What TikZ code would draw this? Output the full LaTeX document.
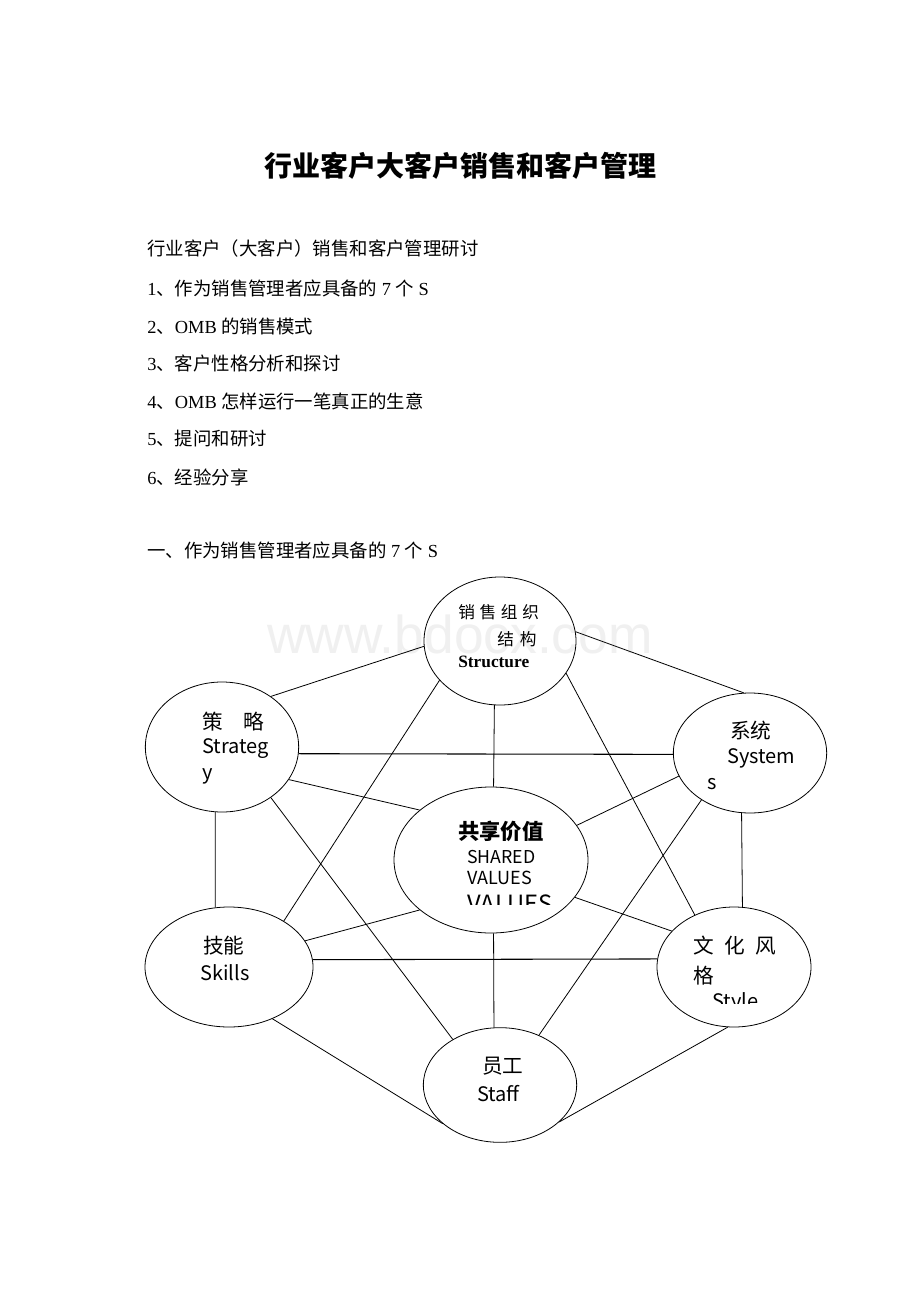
\documentclass[tikz,border=0pt]{standalone}
\usepackage{fontspec}
\setmainfont{Liberation Serif}
\newfontfamily\zhfont{Noto Sans CJK SC}
\newfontfamily\wmfont{Liberation Sans}
\usetikzlibrary{shapes.geometric}

\begin{document}
\begin{tikzpicture}[x=0.75pt, y=-0.75pt,
		oval/.style={draw, ellipse, inner sep=0pt, line width=0.6pt},
		link/.style={line width=0.6pt},
		bodyline/.style={anchor=west, inner sep=0pt, font=\fontsize{13.8}{16}\selectfont},
		zhlabel/.style={anchor=west, inner sep=0pt, font=\zhfont\fontsize{15.5}{18}\selectfont},
		enlabel/.style={anchor=west, inner sep=0pt, font=\zhfont\fontsize{15}{18}\selectfont}]
				% Page
				\useasboundingbox (0,0) rectangle (920,1302);
				\fill[white] (0,0) rectangle (920,1302);
				
				% Watermark
				\node[text=gray!12, font=\wmfont\fontsize{40}{44}\selectfont] (wm) at (460,634) {www.bdocx.com};
				
				% Title
				\node[font=\zhfont\bfseries\fontsize{21}{24}\selectfont] (title) at (460,166) {行业客户大客户销售和客户管理};
				
				% Outline
				\node[bodyline] (l0) at (147,249) {\zhfont 行业客户（大客户）销售和客户管理研讨};
				\node[bodyline] (l1) at (147,288) {1{\zhfont 、作为销售管理者应具备的} 7 {\zhfont 个} S};
				\node[bodyline] (l2) at (147,326) {2{\zhfont 、}OMB {\zhfont 的销售模式}};
				\node[bodyline] (l3) at (147,363) {3{\zhfont 、客户性格分析和探讨}};
				\node[bodyline] (l4) at (147,401) {4{\zhfont 、}OMB {\zhfont 怎样运行一笔真正的生意}};
				\node[bodyline] (l5) at (147,439) {5{\zhfont 、提问和研讨}};
				\node[bodyline] (l6) at (147,477) {6{\zhfont 、经验分享}};
				\node[bodyline] (l7) at (147,550) {{\zhfont 一、作为销售管理者应具备的} 7 {\zhfont 个} S};
				
				% The seven S
				\node[oval, minimum width=114pt, minimum height=96pt] (struct) at (500,641) {};
				\node[oval, minimum width=115pt, minimum height=97.5pt] (strat) at (222,747) {};
				\node[oval, minimum width=115pt, minimum height=90pt] (syst) at (750,753) {};
				\node[oval, minimum width=145.5pt, minimum height=109.5pt] (shared) at (491,860) {};
				\node[oval, minimum width=126pt, minimum height=90pt] (skill) at (229,967) {};
				\node[oval, minimum width=115.5pt, minimum height=90pt] (style) at (734,967) {};
				\node[oval, minimum width=115pt, minimum height=86pt] (staff) at (500,1085) {};
				
				% Labels
				\node[anchor=west, inner sep=0pt, font=\zhfont\fontsize{12.5}{15}\selectfont] (structzh) at (458,612) {销\hspace{3.5pt}售\hspace{3.5pt}组\hspace{3.5pt}织};
				\node[anchor=west, inner sep=0pt, font=\zhfont\fontsize{12.5}{15}\selectfont] (structzhb) at (497,639) {结\hspace{4.5pt}构};
				\node[anchor=west, inner sep=0pt, font=\bfseries\fontsize{13}{15}\selectfont] (structen) at (458,662) {Structure};
				
				\node[zhlabel] (stratzh) at (202,722) {策\hspace{1em}略};
				\node[enlabel] (straten) at (202,749) {Strateg};
				\node[enlabel] (stratenb) at (202,776) {y};
				
				\node[zhlabel] (systzh) at (730,731) {系统};
				\node[enlabel] (systen) at (727,758) {System};
				\node[enlabel] (systenb) at (707,784) {s};
				
				\node[zhlabel, font=\zhfont\bfseries\fontsize{16}{18}\selectfont] (sharedzh) at (458,831) {共享价值};
				\node[enlabel, font=\zhfont\fontsize{13.3}{16}\selectfont] (shareden) at (467,857) {SHARED};
				\node[enlabel, font=\zhfont\fontsize{13.5}{16}\selectfont] (sharedenb) at (467,878) {VALUES};
				\begin{scope}
					\clip (380,780) rectangle (600,904);
					\node[anchor=base west, inner sep=0pt, font=\zhfont\fontsize{17.8}{20}\selectfont] (sharedenc) at (467,912) {VALUES};
				\end{scope}
				
				\node[zhlabel] (skillzh) at (203,946) {技能};
				\node[enlabel] (skillen) at (200,973) {Skills};
				
				\node[zhlabel] (stylezh) at (693,946) {文\hspace{8pt}化\hspace{8pt}风};
				\node[zhlabel] (stylezhb) at (693,976) {格};
				\begin{scope}
					\clip (650,980) rectangle (820,1003);
					\node[anchor=base west, inner sep=0pt, font=\zhfont\fontsize{15}{18}\selectfont] (styleen) at (712,1008) {Style};
				\end{scope}
				
				\node[zhlabel] (staffzh) at (482,1066) {员工};
				\node[enlabel] (staffen) at (477,1094) {Staff};
				
				% Outer ring
				\draw[link] (strat.46) -- (struct.184);
				\draw[link] (struct.7) -- (syst.96);
				\draw[link] (syst.262) -- (style.82);
				\draw[link] (style.264) -- (staff.328);
				\draw[link] (staff.214) -- (skill.310);
				\draw[link] (skill.103) -- (strat.264);
				
				% Spokes to shared values
				\draw[link] (struct.265) -- (shared.88);
				\draw[link] (strat.334) -- (shared.145);
				\draw[link] (syst.198) -- (shared.22);
				\draw[link] (skill.19) -- (shared.215);
				\draw[link] (style.150) -- (shared.336);
				\draw[link] (staff.96) -- (shared.272);
				
				% Cross lines
				\draw[link, line width=0.8pt] (strat.355) -- (syst.181);
				\draw[link, line width=0.8pt] (skill.5) -- (style.174);
				\draw[link] (struct.213) -- (skill.40);
				\draw[link] (struct.334) -- (style.127);
				\draw[link] (strat.314) -- (staff.136);
				\draw[link] (syst.224) -- (staff.52);
				
\end{tikzpicture}
\end{document}
